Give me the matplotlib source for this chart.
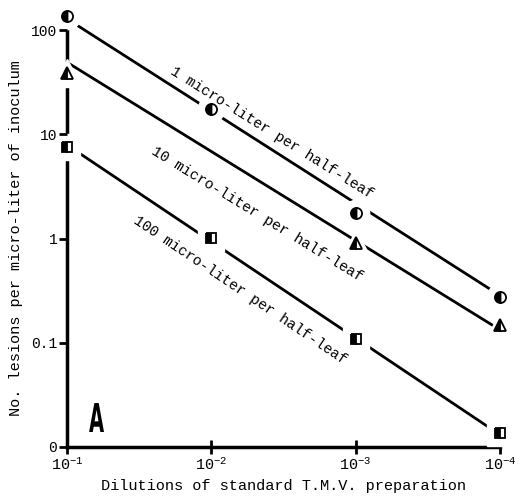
import numpy as np
import matplotlib.pyplot as plt
from matplotlib.textpath import TextPath
from matplotlib.patches import PathPatch
from matplotlib.font_manager import FontProperties
from matplotlib.transforms import Affine2D

plt.rcParams['font.family'] = ['Liberation Mono', 'DejaVu Sans Mono']
plt.rcParams['mathtext.fontset'] = 'custom'
plt.rcParams['mathtext.rm'] = 'Liberation Mono'
plt.rcParams['mathtext.it'] = 'Liberation Mono'

# dilutions of the standard preparation
dilutions = [1e-1, 1e-2, 1e-3, 1e-4]

# lesions per micro-liter
one_ul_x = [1e-1, 1e-2, 1e-3, 1e-4]
one_ul_y = [136, 17.5, 1.76, 0.275]
ten_ul_x = [1e-1, 1e-3, 1e-4]
ten_ul_y = [38.5, 0.906, 0.148]
hundred_ul_x = [1e-1, 1e-2, 1e-3, 1e-4]
hundred_ul_y = [7.5, 1.01, 0.109, 0.0136]

# drawn regression lines (values at 10^-1 and 10^-4)
line_x = [1e-1, 1e-4]
one_ul_line = [128, 0.284]
ten_ul_line = [49, 0.133]
hundred_ul_line = [7.9, 0.0131]

ytick_vals = [100, 10, 1, 0.1, 0.01]
ytick_labels = ['100', '10', '1', '0.1', '0']
xtick_labels = [r'$10^{-1}$', r'$10^{-2}$', r'$10^{-3}$', r'$10^{-4}$']

W, H = 525, 497
fig = plt.figure(figsize=(W/100, H/100), dpi=100)
ax = fig.add_axes([67/W, 1-447/H, 433/W, 417/H])
ax.set_xscale('log')
ax.set_yscale('log')

series = [
    (one_ul_x, one_ul_y, one_ul_line, 'o', 8),
    (ten_ul_x, ten_ul_y, ten_ul_line, '^', 9),
    (hundred_ul_x, hundred_ul_y, hundred_ul_line, 's', 7.5),
]
for xs, ys, ln, mk, ms in series:
    ax.plot(line_x, ln, color='black', lw=2, zorder=2, clip_on=False,
            solid_capstyle='butt')
    # white halo that breaks the line around each point
    ax.plot(xs, ys, linestyle='none', marker=mk, ms=ms + 11, color='white',
            zorder=3, clip_on=False)
    ax.plot(xs, ys, linestyle='none', marker=mk, ms=ms, fillstyle='left',
            markerfacecolor='black', markerfacecoloralt='white',
            markeredgecolor='black', markeredgewidth=1.3, zorder=4,
            clip_on=False)

ax.set_xlim(1e-1, 1e-4)
ax.set_ylim(0.01, 100)

ax.set_xticks(dilutions)
ax.set_xticklabels(xtick_labels, fontsize=11)
ax.set_yticks(ytick_vals)
ax.set_yticklabels(ytick_labels, fontsize=10.5)
ax.minorticks_off()
ax.tick_params(axis='x', direction='inout', length=10, width=2, pad=2)
ax.tick_params(axis='y', direction='out', length=6, width=2, pad=1)
ax.yaxis.set_zorder(5)

for s in ['top', 'right']:
    ax.spines[s].set_visible(False)
for s in ['left', 'bottom']:
    ax.spines[s].set_linewidth(2.5)

ax.set_xlabel('Dilutions of standard T.M.V. preparation', fontsize=11,
              labelpad=4)
ax.set_ylabel('No. lesions per micro-liter of inoculum', fontsize=11,
              labelpad=6)

ax.text(0.0196, 38.7, '1 micro-liter per half-leaf', rotation=-32,
        rotation_mode='anchor', ha='left', va='baseline', fontsize=10.5)
ax.text(0.0262, 6.6, '10 micro-liter per half-leaf', rotation=-31.5,
        rotation_mode='anchor', ha='left', va='baseline', fontsize=10.5)
ax.text(0.0349, 1.41, '100 micro-liter per half-leaf', rotation=-34,
        rotation_mode='anchor', ha='left', va='baseline', fontsize=10.5)

# narrow heavy panel letter
tp = TextPath((0, 0), 'A', size=1,
              prop=FontProperties(family='DejaVu Sans', weight='bold'))
letter_tr = Affine2D().scale(19.5/W, 39.7/H).translate(89/W, 65/H) + fig.transFigure
fig.patches.append(PathPatch(tp, transform=letter_tr, color='black', lw=0))

fig.savefig('out.png', dpi=100)
